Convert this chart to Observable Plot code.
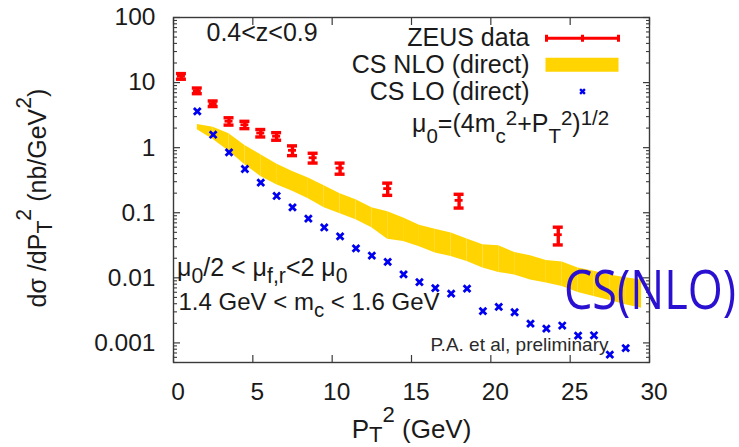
<!DOCTYPE html>
<html>
<head>
<meta charset="utf-8">
<script src="https://cdn.jsdelivr.net/npm/d3@7"></script>
<script src="https://cdn.jsdelivr.net/npm/@observablehq/plot@0.6"></script>
<style>
  html, body { margin: 0; padding: 0; background: #fff; }
</style>
</head>
<body>
<div id="chart"></div>
<script>
// ZEUS data: PT^2 bin centres, cross sections and errors (nb/GeV^2)
const zeusPt2 = [0.5, 1.5, 2.5, 3.5, 4.5, 5.5, 6.5, 7.5, 8.8, 10.5, 13.5, 18, 24.25];
const zeusXsec = [12.5, 7.5, 4.75, 2.55, 2.25, 1.68, 1.5, 0.91, 0.70, 0.485, 0.235, 0.155, 0.046];
const zeusErr = [1.25, 0.75, 0.47, 0.33, 0.29, 0.22, 0.2, 0.156, 0.12, 0.094, 0.05, 0.037, 0.014];

// CS LO (direct) prediction
const loPt2 = [1.5, 2.5, 3.5, 4.5, 5.5, 6.5, 7.5, 8.5, 9.5, 10.5, 11.5, 12.5, 13.5, 14.5,
               15.5, 16.5, 17.5, 18.5, 19.5, 20.5, 21.5, 22.5, 23.5, 24.5, 25.5, 26.5, 27.5, 28.5];
const loXsec = [3.62, 1.58, 0.847, 0.47, 0.29, 0.181, 0.121, 0.081, 0.0594, 0.0433, 0.0283, 0.022,
                0.0176, 0.01127, 0.0086, 0.00695, 0.00573, 0.00684, 0.00308, 0.00358, 0.00296,
                0.00198, 0.00166, 0.00185, 0.00129, 0.00131, 0.00066, 0.00083];

// CS NLO (direct) uncertainty band
const nloPt2 = [1.5, 2.5, 3.5, 4.5, 5.5, 6.5, 7.5, 8.5, 9.5, 10.5, 11.5, 12.5, 13.5, 14.5, 15.5,
                16.5, 17.5, 18.5, 19.5, 20.5, 21.5, 22.5, 23.5, 24.5, 25.5, 26.5, 27.5, 28.5, 29.5];
const nloHigh = [2.26, 2.05, 1.64, 1.08, 0.78, 0.561, 0.432, 0.342, 0.26, 0.196, 0.158, 0.119, 0.104,
                 0.0828, 0.0642, 0.0557, 0.0487, 0.0394, 0.0322, 0.031, 0.0245, 0.0218, 0.0184,
                 0.01746, 0.0141, 0.0126, 0.0111, 0.01, 0.0093];
const nloLow = [1.89, 1.33, 0.877, 0.547, 0.361, 0.27, 0.213, 0.164, 0.119, 0.0966, 0.078, 0.0588,
                0.0391, 0.0361, 0.03, 0.024, 0.0213, 0.0178, 0.0141, 0.0121, 0.0111, 0.0093, 0.0083,
                0.00735, 0.00594, 0.00516, 0.00448, 0.00385, 0.00342];

// axes
const xDomain = [0, 30];
const yDomain = [0.0005, 100];
const xTicks = [0, 5, 10, 15, 20, 25, 30];
const yTicks = [0.001, 0.01, 0.1, 1, 10, 100];
const yTickLabels = ["0.001", "0.01", "0.1", "1", "10", "100"];

const RED = "#ff0000", BLUE = "#0000f0", GOLD = "#ffd400", INK = "#1a1a1a", FRAME = "#3a3a3a";

const zeus = zeusPt2.map((x, i) => ({x, y: zeusXsec[i], lo: zeusXsec[i] - zeusErr[i], hi: zeusXsec[i] + zeusErr[i]}));
const lo = loPt2.map((x, i) => ({x, y: loXsec[i]}));
// the band is filled one interval at a time
const nloSegments = nloPt2.slice(1).flatMap((x, i) => [
  {seg: i, x: nloPt2[i], y1: nloLow[i], y2: nloHigh[i]},
  {seg: i, x, y1: nloLow[i + 1], y2: nloHigh[i + 1]}
]);

const minorY = [];
for (let e = -4; e <= 1; e++) for (let m = 2; m <= 9; m++) {
  const v = +(m * 10 ** e).toPrecision(3);
  if (v >= yDomain[0] && v <= yDomain[1]) minorY.push(v);
}

// hand-made symbols
const cross = h => ({draw(c) { c.moveTo(-h, -h); c.lineTo(h, h); c.moveTo(h, -h); c.lineTo(-h, h); }});
const errKey = {draw(c) {
  c.moveTo(-36, 0); c.lineTo(36, 0);
  for (const x of [-36, 0, 36]) { c.moveTo(x, -3.5); c.lineTo(x, 3.5); }
}};
const bandKey = {draw(c) { c.rect(-36.5, -7, 73, 14); }};

// sub/superscript placement (fractions of the font size) for each rich label
const scriptStyle = new Map();
const label = (txt, o, script) => {
  if (script) scriptStyle.set(txt, {size: o.fontSize, ...script});
  return Plot.text([txt], {text: d => d, fill: INK, lineAnchor: "bottom", ...o});
};

const tickText = d => yTickLabels[yTicks.indexOf(d)];

const chart = Plot.plot({
  width: 739,
  height: 447,
  marginLeft: 173,
  marginRight: 90,
  marginTop: 17,
  marginBottom: 85,
  style: {fontFamily: "'Liberation Sans', Arial, sans-serif", fontSize: "24.5px", color: INK, background: "#fff"},
  x: {domain: xDomain},
  y: {type: "log", domain: yDomain},
  marks: [
    // NLO band
    Plot.areaY(nloSegments, {x: "x", y1: "y1", y2: "y2", z: "seg", fill: GOLD}),
    // LO points
    Plot.dot(lo, {x: "x", y: "y", symbol: cross(3.4), fill: "none", stroke: BLUE, strokeWidth: 2.8}),
    // ZEUS points with error bars
    Plot.ruleX(zeus, {x: "x", y1: "lo", y2: "hi", stroke: RED, strokeWidth: 3.4}),
    Plot.ruleY(zeus, {y: "lo", x1: "x", x2: "x", insetLeft: -5, insetRight: -5, stroke: RED, strokeWidth: 3.4}),
    Plot.ruleY(zeus, {y: "hi", x1: "x", x2: "x", insetLeft: -5, insetRight: -5, stroke: RED, strokeWidth: 3.4}),
    Plot.ruleY(zeus, {y: "y", x1: "x", x2: "x", insetLeft: -4, insetRight: -4, stroke: RED, strokeWidth: 2.8}),

    // frame and inward ticks
    Plot.frame({stroke: FRAME, strokeWidth: 1.4}),
    Plot.axisX(xTicks, {anchor: "bottom", tickSize: -7, text: null, label: null, stroke: FRAME, strokeWidth: 1.2}),
    Plot.axisX(xTicks, {anchor: "top", tickSize: -7, text: null, label: null, stroke: FRAME, strokeWidth: 1.2}),
    Plot.axisX(xTicks, {anchor: "bottom", tickSize: 0, tickPadding: 20, dx: 4.5, label: null, fill: INK}),
    Plot.axisY(yTicks, {anchor: "left", tickSize: -7, text: null, label: null, stroke: FRAME, strokeWidth: 1.2}),
    Plot.axisY(yTicks, {anchor: "right", tickSize: -7, text: null, label: null, stroke: FRAME, strokeWidth: 1.2}),
    Plot.axisY(minorY, {anchor: "left", tickSize: -4, text: null, label: null, stroke: FRAME, strokeWidth: 1.1}),
    Plot.axisY(minorY, {anchor: "right", tickSize: -4, text: null, label: null, stroke: FRAME, strokeWidth: 1.1}),
    Plot.axisY(yTicks, {anchor: "left", tickSize: 0, tickPadding: 18, label: null, fill: INK, tickFormat: tickText}),

    // axis titles
    label("P_{T}^{2} (GeV)", {frameAnchor: "bottom", dy: 75, fontSize: 26, textAnchor: "middle"},
          {sub: 0.18, sup: -0.6, scale: 0.85}),
    label("dσ /dP_{T}^{2} (nb/GeV^{2})", {frameAnchor: "left", dx: -128, dy: 8, rotate: -90, fontSize: 25, textAnchor: "middle"},
          {sub: 0.24, sup: -0.58, scale: 0.85}),

    // annotations
    label("0.4<z<0.9", {frameAnchor: "top-left", dx: 33, dy: 23, fontSize: 25, textAnchor: "start"}),
    label("μ_{0}=(4m_{c}^{2}+P_{T}^{2})^{1/2}", {frameAnchor: "top-left", dx: 238.5, dy: 114.5, fontSize: 25, textAnchor: "start"},
          {sub: 0.42, sup: -0.3, scale: 0.82}),
    label("μ_{0}/2 < μ_{f,r}<2 μ_{0}", {frameAnchor: "top-left", dx: 3.5, dy: 258, fontSize: 25, textAnchor: "start"},
          {sub: 0.28, sup: -0.3, scale: 0.85}),
    label("1.4 GeV < m_{c} < 1.6 GeV", {frameAnchor: "top-left", dx: 5, dy: 292, fontSize: 24, textAnchor: "start"},
          {sub: 0.3, sup: -0.3, scale: 0.85}),
    label("P.A. et al, preliminary", {frameAnchor: "top-right", dx: -41, dy: 333, fontSize: 19, fill: "#2a2a2a", textAnchor: "end"}),
    label("CS(NLO)", {frameAnchor: "top-right", dx: -85.5, dy: 291.5, fontSize: 45, fontFamily: "'Open Sans', sans-serif", fill: "#2a10d0", textAnchor: "start"}),

    // key
    label("ZEUS data", {frameAnchor: "top-right", dx: -120, dy: 28, fontSize: 25, textAnchor: "end"}),
    label("CS NLO (direct)", {frameAnchor: "top-right", dx: -120, dy: 55, fontSize: 25, textAnchor: "end"}),
    label("CS LO (direct)", {frameAnchor: "top-right", dx: -120, dy: 82.5, fontSize: 25, textAnchor: "end"}),
    Plot.dot([0], {x: null, y: null, frameAnchor: "top-right", dx: -67, dy: 20.7, symbol: errKey, fill: "none", stroke: RED, strokeWidth: 3}),
    Plot.dot([0], {x: null, y: null, frameAnchor: "top-right", dx: -67.5, dy: 47.2, symbol: bandKey, fill: GOLD, stroke: "none"}),
    Plot.dot([0], {x: null, y: null, frameAnchor: "top-right", dx: -67, dy: 74, symbol: cross(2.4), fill: "none", stroke: BLUE, strokeWidth: 2.4})
  ]
});

// turn _{...} and ^{...} into sub/superscript tspans
function richText(el) {
  const src = el.textContent;
  const st = scriptStyle.get(src);
  if (!st) return;
  const fs = st.size;
  el.textContent = "";
  const re = /([_^])\{([^}]*)\}|([^_^]+)/g;
  let m, offset = 0;
  while ((m = re.exec(src))) {
    const t = document.createElementNS("http://www.w3.org/2000/svg", "tspan");
    const target = m[1] === "_" ? st.sub * fs : m[1] === "^" ? st.sup * fs : 0;
    if (m[1]) t.setAttribute("font-size", (st.scale * fs).toFixed(2));
    if (target !== offset) t.setAttribute("dy", (target - offset).toFixed(2));
    offset = target;
    t.textContent = m[1] ? m[2] : m[3];
    el.appendChild(t);
  }
}
chart.querySelectorAll("text").forEach(el => {
  richText(el);
  if (el.textContent === "CS(NLO)") {
    // tall, narrow lettering: stretch vertically about the baseline
    el.setAttribute("transform", `${el.getAttribute("transform") || ""} scale(1,1.2)`);
    el.setAttribute("textLength", 172);
    el.setAttribute("lengthAdjust", "spacingAndGlyphs");
  }
});

document.getElementById("chart").appendChild(chart);
</script>
</body>
</html>
